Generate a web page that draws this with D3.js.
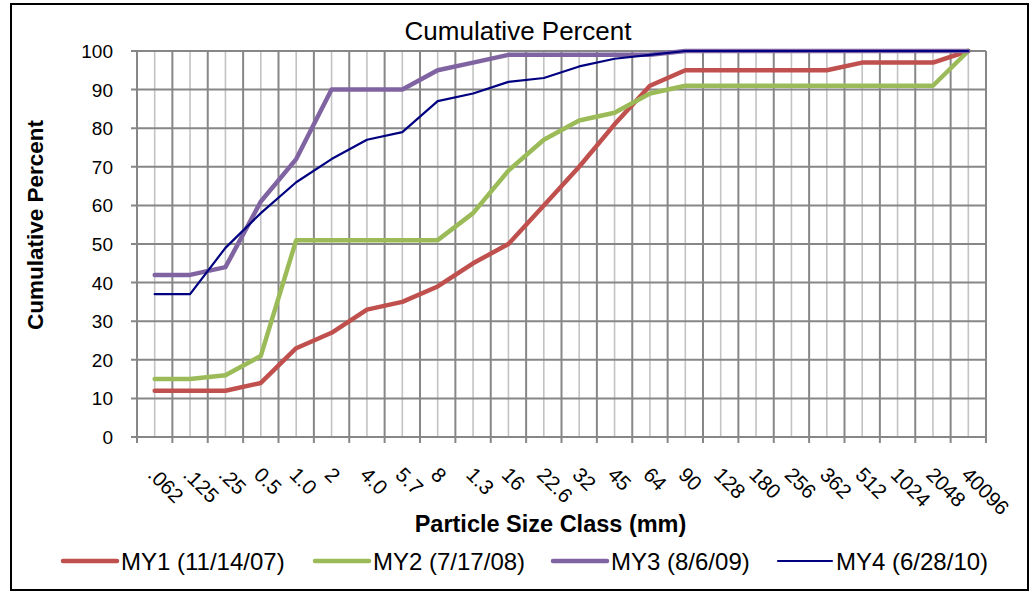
<!DOCTYPE html>
<html>
<head>
<meta charset="utf-8">
<script src="https://cdn.jsdelivr.net/npm/d3@7"></script>
<style>
  html, body { margin: 0; padding: 0; background: #ffffff; }
  svg { display: block; font-family: "Liberation Sans", Arial, sans-serif; }
</style>
</head>
<body>
<svg id="chart" width="1032" height="592"></svg>
<script>
// ---------- data ----------
const categories = [".062", ".125", ".25", "0.5", "1.0", "2", "4.0", "5.7", "8", "1.3", "16", "22.6",
                    "32", "45", "64", "90", "128", "180", "256", "362", "512", "1024", "2048", "40096"];
const my1 = [12, 12, 12, 14, 23, 27, 33, 35, 39, 45, 50, 60, 70, 81, 91, 95, 95, 95, 95, 95, 97, 97, 97, 100];
const my2 = [15, 15, 16, 21, 51, 51, 51, 51, 51, 58, 69, 77, 82, 84, 89, 91, 91, 91, 91, 91, 91, 91, 91, 100];
const my3 = [42, 42, 44, 61, 72, 90, 90, 90, 95, 97, 99, 99, 99, 99, 99, 100, 100, 100, 100, 100, 100, 100, 100, 100];
const my4 = [37, 37, 49, 58, 66, 72, 77, 79, 87, 89, 92, 93, 96, 98, 99, 100, 100, 100, 100, 100, 100, 100, 100, 100];
const seriesNames = ["MY1 (11/14/07)", "MY2 (7/17/08)", "MY3 (8/6/09)", "MY4 (6/28/10)"];
const yTicks = [0, 10, 20, 30, 40, 50, 60, 70, 80, 90, 100];

const chartTitle = "Cumulative Percent";
const xTitle = "Particle Size Class (mm)";
const yTitle = "Cumulative Percent";

// ---------- styles ----------
const colors = ["#C0504D", "#9BBB59", "#8064A2", "#000080"];
const widths = [4.5, 4.5, 4.5, 2.2];
const seriesValues = [my1, my2, my3, my4];

const svg = d3.select("#chart");
const L = 137, R = 986, T = 51, B = 437;

const x = d3.scaleBand().domain(categories).range([L, R]).padding(0);
const y = d3.scaleLinear().domain([0, 100]).range([B, T]);
const cx = d => x(d) + x.bandwidth() / 2;

// outer frame
svg.append("rect").attr("x", 11).attr("y", 4).attr("width", 1017).attr("height", 586)
  .attr("fill", "#fff").attr("stroke", "#000").attr("stroke-width", 2);

// minor vertical gridlines (category centers)
svg.append("g").selectAll("line").data(categories).join("line")
  .attr("x1", d => cx(d)).attr("x2", d => cx(d)).attr("y1", T).attr("y2", B)
  .attr("stroke", "#c3c3c3").attr("stroke-width", 1.6);

// major vertical gridlines (category boundaries)
const bounds = categories.map(d => x(d)).concat([R]);
svg.append("g").selectAll("line").data(bounds).join("line")
  .attr("x1", d => d).attr("x2", d => d).attr("y1", T).attr("y2", B + 6)
  .attr("stroke", "#878787").attr("stroke-width", 2);

// horizontal gridlines
svg.append("g").selectAll("line").data(yTicks).join("line")
  .attr("x1", L - 6).attr("x2", R).attr("y1", d => y(d)).attr("y2", d => y(d))
  .attr("stroke", "#878787").attr("stroke-width", 2);

// y tick labels
svg.append("g").selectAll("text").data(yTicks).join("text")
  .attr("x", 113).attr("y", d => y(d) + 7)
  .attr("text-anchor", "end").attr("font-size", 19).attr("fill", "#000")
  .text(d => d);

// x tick labels (rotated)
svg.append("g").selectAll("text").data(categories).join("text")
  .attr("transform", d => `translate(${cx(d) - 8},${476}) rotate(45)`)
  .attr("text-anchor", "start").attr("font-size", 20.5).attr("fill", "#000")
  .text(d => d);

// series
const line = d3.line().x((v, i) => cx(categories[i])).y(v => y(v));
seriesValues.forEach((vals, k) => {
  svg.append("path").datum(vals)
    .attr("d", line)
    .attr("fill", "none")
    .attr("stroke", colors[k])
    .attr("stroke-width", widths[k])
    .attr("stroke-linejoin", "round")
    .attr("stroke-linecap", "round");
});

// titles
svg.append("text").attr("x", 518).attr("y", 40).attr("text-anchor", "middle")
  .attr("font-size", 26).text(chartTitle);
svg.append("text").attr("x", 550.5).attr("y", 531.5).attr("text-anchor", "middle")
  .attr("font-size", 23.5).attr("font-weight", "bold").text(xTitle);
svg.append("text").attr("transform", "translate(43,225) rotate(-90)").attr("text-anchor", "middle")
  .attr("font-size", 22.5).attr("font-weight", "bold").text(yTitle);

// legend
const legendX = [63, 315, 553, 778];
const lg = svg.append("g");
seriesNames.forEach((name, k) => {
  lg.append("line").attr("x1", legendX[k]).attr("x2", legendX[k] + 54)
    .attr("y1", 561).attr("y2", 561)
    .attr("stroke", colors[k]).attr("stroke-width", widths[k])
    .attr("stroke-linecap", "round");
  lg.append("text").attr("x", legendX[k] + 58).attr("y", 570)
    .attr("font-size", 24).attr("fill", "#000").text(name);
});
</script>
</body>
</html>
